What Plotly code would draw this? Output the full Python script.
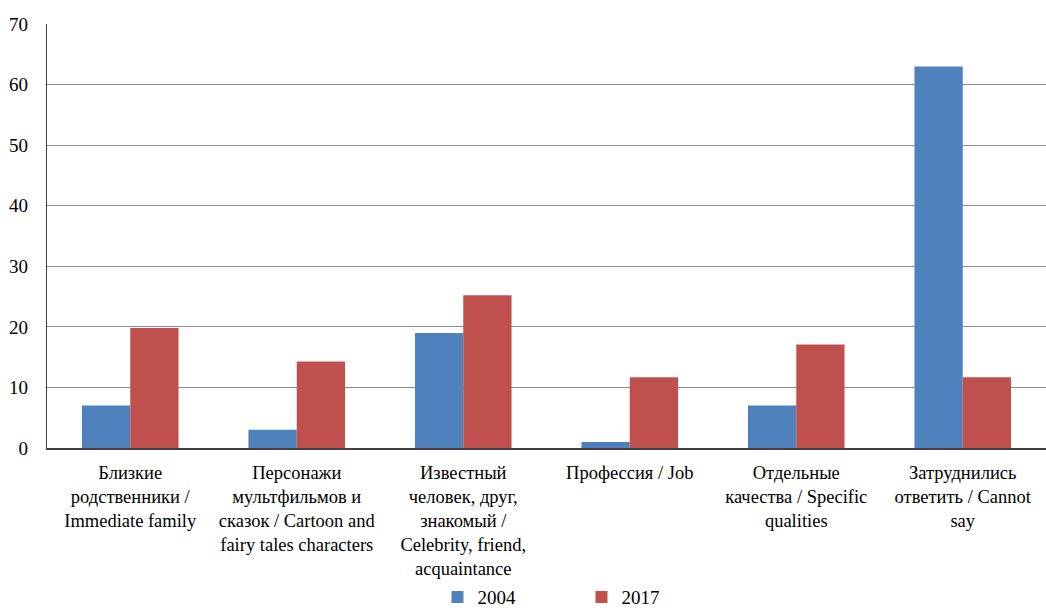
import plotly.graph_objects as go

categories = [
    "Близкие<br>родственники /<br>Immediate family",
    "Персонажи<br>мультфильмов и<br>сказок / Cartoon and<br>fairy tales characters",
    "Известный<br>человек, друг,<br>знакомый /<br>Celebrity, friend,<br>acquaintance",
    "Профессия / Job",
    "Отдельные<br>качества / Specific<br>qualities",
    "Затруднились<br>ответить / Cannot<br>say",
]
values_2004 = [7, 3, 19, 1, 7, 63]
values_2017 = [19.8, 14.3, 25.2, 11.7, 17.1, 11.7]
y_ticks = [0, 10, 20, 30, 40, 50, 60, 70]

FONT = "'Times New Roman', 'Liberation Serif', serif"

fig = go.Figure()
fig.add_trace(go.Bar(name="2004", x=categories, y=values_2004,
                     marker=dict(color="#4F81BD", line=dict(width=0))))
fig.add_trace(go.Bar(name="2017", x=categories, y=values_2017,
                     marker=dict(color="#C0504D", line=dict(width=0))))

fig.update_layout(
    width=1046, height=608,
    margin=dict(l=47, r=0, t=24, b=160, autoexpand=False),
    paper_bgcolor="white", plot_bgcolor="white",
    barmode="group", bargap=0.42, bargroupgap=0,
    font=dict(family=FONT, size=19, color="#000000"),
    showlegend=True,
    legend=dict(orientation="h", x=0.535, xanchor="center",
                yref="container", y=0.018, yanchor="middle",
                bgcolor="rgba(0,0,0,0)",
                font=dict(family=FONT, size=19), entrywidth=99,
                itemwidth=30, traceorder="normal"),
)
fig.update_xaxes(
    showline=True, linecolor="#404040", linewidth=1.5,
    showgrid=False, ticks="", tickangle=0, automargin=False,
    ticklabelstandoff=7,
    tickfont=dict(family=FONT, size=18.5),
)
fig.update_yaxes(
    range=[0, 70], tickvals=y_ticks, automargin=False,
    showline=True, linecolor="#404040", linewidth=1.2,
    showgrid=True, gridcolor="#8C8C8C", gridwidth=1,
    ticks="", ticklabelstandoff=14,
    tickfont=dict(family=FONT, size=19),
    zeroline=False,
)

fig.write_html("out.html")
